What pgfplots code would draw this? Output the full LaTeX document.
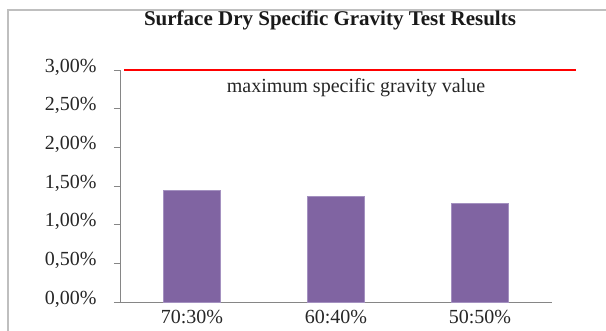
\documentclass[border=0pt]{standalone}
\usepackage{fontspec}
\setmainfont{Liberation Serif}
\usepackage{pgfplots}
\pgfplotsset{compat=1.18}
\definecolor{barpurple}{HTML}{8064A2}
\definecolor{baredge}{HTML}{A491C0}
\definecolor{axisgray}{HTML}{868686}
\definecolor{framegray}{HTML}{BFBFBF}
\begin{document}
\begin{tikzpicture}
\path[use as bounding box] (0,0) rectangle (606pt,331pt);
\draw[framegray, line width=1.5pt] (8pt,-5pt) -- (8pt,321pt) -- (620pt,321pt);
\node[font=\bfseries\fontsize{21}{24}\selectfont, text=black!90, anchor=base] at (330pt,305pt) {Surface Dry Specific Gravity Test Results};
\begin{axis}[
  at={(120pt,29pt)}, anchor=south west,
  scale only axis, width=432pt, height=232pt,
  xmin=-0.5, xmax=2.5, ymin=0, ymax=3,
  axis x line=bottom, axis y line=left,
  axis line style={axisgray, line width=0.9pt, -},
  clip=false,
  xtick={0,1,2},
  xticklabels={70:30\%,60:40\%,50:50\%},
  xtick style={draw=none},
  extra x ticks={-0.5,0.5,1.5,2.5},
  extra x tick labels={},
  extra x tick style={tick style={axisgray, line width=0.9pt}, major tick length=6pt, tick align=outside},
  ytick={0,0.5,1,1.5,2,2.5,3},
  yticklabels={{0,00\%},{0,50\%},{1,00\%},{1,50\%},{2,00\%},{2,50\%},{3,00\%}},
  ytick style={axisgray, line width=0.9pt},
  major tick length=6pt, tick align=outside,
  tick label style={font=\fontsize{20}{22}\selectfont, text=black!85},
  yticklabel style={xshift=-14pt, yshift=3pt},
  xticklabel style={yshift=1pt},
]
\addplot[ybar, bar width=57pt, fill=barpurple, draw=baredge, line width=0.6pt]
  coordinates {(0,1.44) (1,1.37) (2,1.27)};
\addplot[red, line width=2pt] coordinates {(-0.472,3) (2.667,3)};
\end{axis}
\node[font=\fontsize{20}{22}\selectfont, text=black!85, anchor=base] at (356pt,238pt) {maximum specific gravity value};
\end{tikzpicture}
\end{document}
